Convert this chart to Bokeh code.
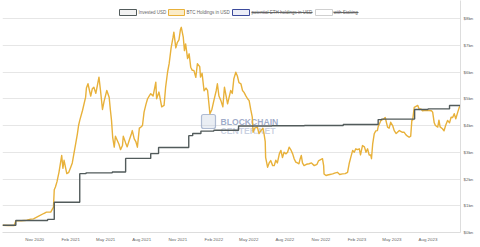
import pandas as pd
from bokeh.plotting import figure
from bokeh.models import Range1d, FixedTicker, DatetimeTickFormatter, Label, BoxAnnotation
from bokeh.embed import file_html
from bokeh.resources import INLINE

# Cumulative amount invested (USD bn), stepped on purchase dates
invested_dates = [
    "2020-08-11", "2020-09-14", "2020-12-04", "2020-12-21", "2021-02-24", "2021-03-12",
    "2021-05-18", "2021-06-21", "2021-08-24", "2021-09-13", "2021-11-29", "2021-12-09",
    "2021-12-30", "2022-02-01", "2022-04-05", "2022-06-29", "2022-09-20", "2022-12-28",
    "2023-03-27", "2023-04-05", "2023-06-28", "2023-08-01", "2023-09-25", "2023-10-23",
]
invested_usd_bn = [
    0.27, 0.45, 0.49, 1.13, 2.20, 2.23,
    2.26, 2.77, 2.95, 3.18, 3.62, 3.70,
    3.79, 3.82, 3.98, 3.99, 4.00, 4.04,
    4.22, 4.24, 4.60, 4.62, 4.75, 4.75,
]

# Market value of the BTC holdings (USD bn)
btc_dates = [
    "2020-08-11", "2020-08-25", "2020-09-10", "2020-09-14", "2020-09-28", "2020-10-12",
    "2020-10-22", "2020-10-29", "2020-11-10", "2020-11-24", "2020-12-01", "2020-12-12",
    "2020-12-19", "2020-12-21", "2020-12-24", "2020-12-28", "2021-01-02", "2021-01-09",
    "2021-01-12", "2021-01-15", "2021-01-22", "2021-01-27", "2021-02-01", "2021-02-05",
    "2021-02-09", "2021-02-14", "2021-02-18", "2021-02-21", "2021-02-24", "2021-03-03",
    "2021-03-11", "2021-03-13", "2021-03-17", "2021-03-24", "2021-03-28", "2021-04-01",
    "2021-04-06", "2021-04-10", "2021-04-14", "2021-04-18", "2021-04-23", "2021-04-27",
    "2021-05-04", "2021-05-10", "2021-05-13", "2021-05-16", "2021-05-19", "2021-05-23",
    "2021-05-26", "2021-06-04", "2021-06-08", "2021-06-13", "2021-06-15", "2021-06-21",
    "2021-06-25", "2021-06-30", "2021-07-06", "2021-07-08", "2021-07-13", "2021-07-17",
    "2021-07-21", "2021-07-26", "2021-07-30", "2021-08-03", "2021-08-07", "2021-08-12",
    "2021-08-16", "2021-08-20", "2021-08-24", "2021-08-30", "2021-09-06", "2021-09-08",
    "2021-09-14", "2021-09-21", "2021-09-27", "2021-10-01", "2021-10-06", "2021-10-10",
    "2021-10-15", "2021-10-20", "2021-10-22", "2021-10-27", "2021-10-31", "2021-11-04",
    "2021-11-08", "2021-11-10", "2021-11-15", "2021-11-18", "2021-11-21", "2021-11-26",
    "2021-11-30", "2021-12-04", "2021-12-08", "2021-12-12", "2021-12-17", "2021-12-21",
    "2021-12-27", "2021-12-29", "2022-01-02", "2022-01-07", "2022-01-12", "2022-01-16",
    "2022-01-22", "2022-01-27", "2022-02-01", "2022-02-07", "2022-02-10", "2022-02-14",
    "2022-02-19", "2022-02-24", "2022-02-28", "2022-03-03", "2022-03-08", "2022-03-16",
    "2022-03-20", "2022-03-24", "2022-03-29", "2022-04-02", "2022-04-06", "2022-04-11",
    "2022-04-15", "2022-04-19", "2022-04-24", "2022-04-28", "2022-05-02", "2022-05-06",
    "2022-05-10", "2022-05-12", "2022-05-16", "2022-05-23", "2022-05-27", "2022-06-01",
    "2022-06-06", "2022-06-09", "2022-06-12", "2022-06-13", "2022-06-18", "2022-06-22",
    "2022-06-26", "2022-07-01", "2022-07-05", "2022-07-09", "2022-07-13", "2022-07-18",
    "2022-07-22", "2022-07-26", "2022-07-30", "2022-08-04", "2022-08-08", "2022-08-12",
    "2022-08-16", "2022-08-21", "2022-08-25", "2022-08-29", "2022-09-02", "2022-09-06",
    "2022-09-09", "2022-09-12", "2022-09-15", "2022-09-19", "2022-09-25", "2022-10-02",
    "2022-10-08", "2022-10-15", "2022-10-22", "2022-10-26", "2022-10-28", "2022-11-05",
    "2022-11-08", "2022-11-09", "2022-11-14", "2022-11-18", "2022-11-24", "2022-12-01",
    "2022-12-06", "2022-12-13", "2022-12-19", "2022-12-26", "2023-01-02", "2023-01-08",
    "2023-01-12", "2023-01-16", "2023-01-21", "2023-01-25", "2023-01-29", "2023-02-02",
    "2023-02-07", "2023-02-10", "2023-02-15", "2023-02-20", "2023-02-24", "2023-02-28",
    "2023-03-04", "2023-03-08", "2023-03-10", "2023-03-13", "2023-03-17", "2023-03-21",
    "2023-03-25", "2023-03-27", "2023-04-03", "2023-04-11", "2023-04-14", "2023-04-20",
    "2023-04-24", "2023-04-28", "2023-05-03", "2023-05-07", "2023-05-12", "2023-05-20",
    "2023-05-27", "2023-06-01", "2023-06-06", "2023-06-10", "2023-06-14", "2023-06-18",
    "2023-06-21", "2023-06-23", "2023-06-27", "2023-07-06", "2023-07-10", "2023-07-14",
    "2023-07-18", "2023-07-22", "2023-07-28", "2023-08-04", "2023-08-10", "2023-08-13",
    "2023-08-17", "2023-08-20", "2023-08-26", "2023-08-29", "2023-09-01", "2023-09-07",
    "2023-09-11", "2023-09-15", "2023-09-20", "2023-09-25", "2023-09-29", "2023-10-03",
    "2023-10-07", "2023-10-11", "2023-10-16", "2023-10-20", "2023-10-23",
]
btc_usd_bn = [
    0.27, 0.26, 0.26, 0.44, 0.44, 0.46,
    0.50, 0.51, 0.60, 0.71, 0.76, 0.76,
    0.95, 1.60, 1.70, 1.90, 2.25, 2.88,
    2.40, 2.70, 2.20, 2.25, 2.44, 2.60,
    2.94, 3.35, 3.69, 4.00, 4.19, 4.56,
    5.06, 5.40, 5.56, 5.10, 5.37, 5.43,
    5.20, 5.50, 5.81, 5.30, 4.60, 4.90,
    5.31, 5.06, 4.60, 4.19, 3.56, 3.19,
    3.60, 3.30, 3.10, 3.25, 3.60, 3.35,
    3.20, 3.44, 3.70, 3.81, 3.50, 3.40,
    3.19, 3.90, 3.94, 4.00, 4.50, 4.80,
    5.00, 5.10, 5.19, 5.10, 5.62, 5.00,
    5.25, 4.70, 4.75, 5.43, 6.00, 6.31,
    6.90, 7.30, 7.49, 6.90, 7.11, 7.20,
    7.60, 7.67, 7.30, 6.80, 7.05, 6.50,
    6.68, 6.18, 6.06, 6.06, 5.80, 6.31,
    6.20, 5.81, 5.95, 5.30, 5.40, 5.31,
    4.44, 4.60, 4.93, 5.30, 5.56, 5.10,
    4.93, 4.70, 5.43, 5.20, 4.81, 5.31,
    5.20, 5.75, 5.99, 5.85, 5.60, 5.56,
    5.31, 5.24, 5.10, 5.00, 4.93, 4.60,
    4.31, 3.75, 3.90, 3.94, 3.70, 3.81,
    3.90, 3.69, 3.40, 2.81, 2.44, 2.60,
    2.69, 2.50, 2.50, 2.70, 2.60, 2.94,
    3.07, 2.80, 3.00, 2.94, 3.00, 3.19,
    3.10, 2.94, 2.75, 2.63, 2.60, 2.57,
    2.75, 2.88, 2.60, 2.50, 2.55, 2.57,
    2.60, 2.50, 2.55, 2.68, 2.70, 2.76,
    2.50, 2.19, 2.13, 2.15, 2.17, 2.19,
    2.22, 2.25, 2.17, 2.19, 2.20, 2.25,
    2.57, 2.80, 3.07, 3.00, 3.13, 3.10,
    3.13, 2.90, 3.25, 3.20, 3.00, 3.13,
    2.90, 2.90, 2.76, 3.30, 3.69, 3.80,
    3.81, 3.95, 4.19, 4.25, 4.30, 3.94,
    3.90, 4.12, 4.00, 3.81, 3.70, 3.81,
    3.75, 3.75, 3.65, 3.60, 3.56, 3.60,
    4.20, 4.20, 4.68, 4.75, 4.60, 4.62,
    4.55, 4.56, 4.56, 4.56, 4.55, 4.50,
    4.10, 4.00, 3.94, 4.20, 3.95, 3.88,
    3.80, 4.00, 4.19, 4.10, 4.31, 4.30,
    4.44, 4.25, 4.50, 4.68, 4.75,
]

y_ticks = [0, 1, 2, 3, 4, 5, 6, 7, 8]
y_tick_labels = ["$0bn", "$1bn", "$2bn", "$3bn", "$4bn", "$5bn", "$6bn", "$7bn", "$8bn"]
x_tick_months = [
    "2020-11-01", "2021-02-01", "2021-05-01", "2021-08-01", "2021-11-01", "2022-02-01",
    "2022-05-01", "2022-08-01", "2022-11-01", "2023-02-01", "2023-05-01", "2023-08-01",
]
legend_labels = ["Invested USD", "BTC Holdings in USD", "potential ETH holdings in USD", "with Staking"]

FONT = "Liberation Sans"
TEXT = "#666666"
GRAY_LINE = "#525b5b"
GOLD_LINE = "#e8b13a"

inv_x = pd.to_datetime(invested_dates)
btc_x = pd.to_datetime(btc_dates)

p = figure(
    width=480, height=247,
    x_axis_type="datetime", y_axis_location="right",
    x_range=Range1d(inv_x[0], btc_x[-1]),
    y_range=Range1d(0, 8.673),
    min_border_left=2, min_border_top=0, min_border_right=20, min_border_bottom=15,
    output_backend="svg", toolbar_location=None,
    background_fill_color="white", border_fill_color="white",
)
p.outline_line_color = None

# BTC holdings below, invested amount on top
p.line(btc_x, btc_usd_bn, line_color=GOLD_LINE, line_width=1.4, line_join="round")
p.step(inv_x, invested_usd_bn, mode="after", line_color=GRAY_LINE, line_width=1.4)

# Axes
ms = [pd.Timestamp(d).value // 10**6 for d in x_tick_months]
p.xaxis.ticker = FixedTicker(ticks=ms)
fmt = "%b %Y"
p.xaxis.formatter = DatetimeTickFormatter(
    years=fmt, months=fmt, days=fmt, hours=fmt, minutes=fmt, seconds=fmt,
    milliseconds=fmt, microseconds=fmt, hourmin=fmt, minsec=fmt,
)
p.yaxis.ticker = FixedTicker(ticks=y_ticks)
p.yaxis.major_label_overrides = {t: lab for t, lab in zip(y_ticks, y_tick_labels)}

for ax in (p.xaxis[0], p.yaxis[0]):
    ax.axis_line_color = "#dddddd"
    ax.axis_line_width = 1
    ax.major_tick_line_color = None
    ax.minor_tick_line_color = None
    ax.major_tick_out = 0
    ax.major_tick_in = 0
    ax.major_label_text_font = FONT
    ax.major_label_text_font_size = "4.4px"
    ax.major_label_text_color = TEXT
p.xaxis.major_label_standoff = 4
p.yaxis.major_label_standoff = 3

p.xgrid.grid_line_color = None
p.ygrid.grid_line_color = "#e6e6e6"
p.ygrid.grid_line_width = 1

# Watermark
wm_icon = BoxAnnotation(left=199, right=213, bottom=104, top=118,
                        left_units="screen", right_units="screen",
                        bottom_units="screen", top_units="screen",
                        fill_color="#c4cde0", fill_alpha=0.35,
                        line_color="#9eabc8", line_alpha=0.8, line_width=1.2,
                        border_radius=2, level="underlay")
p.add_layout(wm_icon)
p.add_layout(Label(x=218, y=111, x_units="screen", y_units="screen", text="BLOCKCHAIN",
                   text_font=FONT, text_font_style="bold", text_font_size="8.6px",
                   text_color="#8e9cc0", text_alpha=0.85, text_baseline="middle",
                   level="underlay"))
p.add_layout(Label(x=218, y=102, x_units="screen", y_units="screen", text="CENTER.NET",
                   text_font=FONT, text_font_style="bold", text_font_size="8.6px",
                   text_color="#b3bdd4", text_alpha=0.7, text_baseline="middle",
                   level="underlay"))

# Legend row
legend_boxes = [
    (117, 134, GRAY_LINE, "#f2f2f2"),
    (166, 182, GOLD_LINE, "#fbecc8"),
    (230, 247, "#3c4a9c", "#eceef8"),
    (313, 330, "#d0d0d0", "#ffffff"),
]
legend_text_x = [136, 184, 249, 331]
legend_strike = [None, None, (249, 310), (331, 356)]
for (l, r, lc, fc), tx, lab, st in zip(legend_boxes, legend_text_x, legend_labels, legend_strike):
    p.add_layout(BoxAnnotation(left=l, right=r, bottom=217, top=223,
                               left_units="screen", right_units="screen",
                               bottom_units="screen", top_units="screen",
                               fill_color=fc, fill_alpha=1,
                               line_color=lc, line_alpha=1, line_width=1))
    p.add_layout(Label(x=tx, y=220, x_units="screen", y_units="screen", text=lab,
                       text_font=FONT, text_font_size="4.5px", text_color=TEXT,
                       text_baseline="middle"))
    if st is not None:
        p.add_layout(BoxAnnotation(left=st[0], right=st[1], bottom=219.6, top=220.4,
                                   left_units="screen", right_units="screen",
                                   bottom_units="screen", top_units="screen",
                                   fill_color=TEXT, fill_alpha=1, line_color=None))

open("out.html", "w").write(file_html(p, INLINE))
